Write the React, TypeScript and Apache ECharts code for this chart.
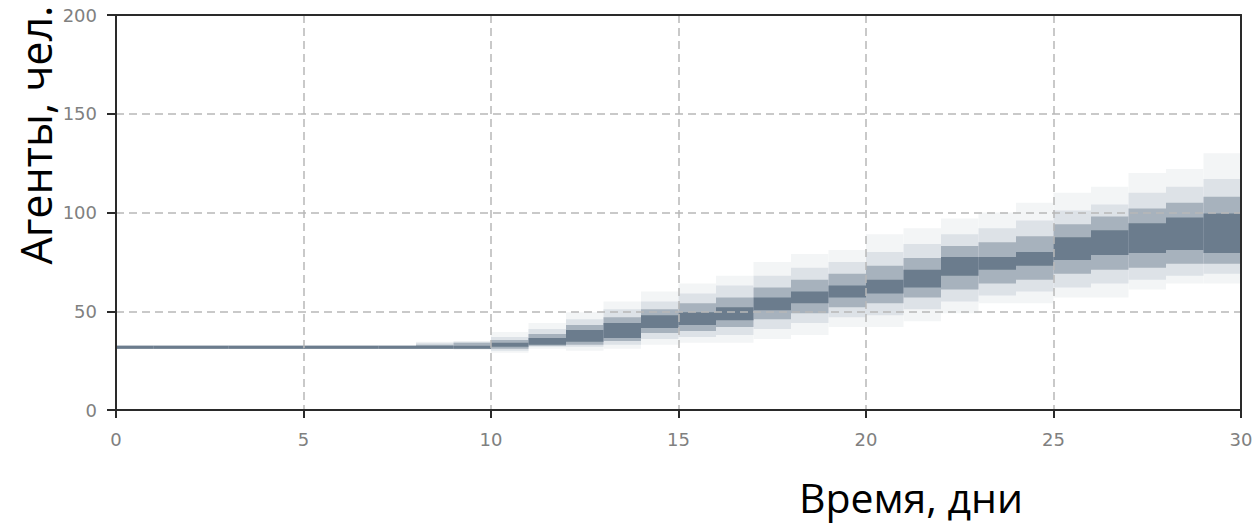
import React, { useEffect, useRef } from "react";
import * as echarts from "echarts";

const days = [0,1,2,3,4,5,6,7,8,9,10,11,12,13,14,15,16,17,18,19,20,21,22,23,24,25,26,27,28,29];
const outerLo = [31,31,31,31,31,31,31,31,31,30.5,29,31,30,31,33,34,34,36,38,42,42,45,49,54,54,57,57,61,64,64];
const outerHi = [32.5,32.5,32.5,32.5,32.5,32.5,32.5,32.5,34.5,35,39.5,44,49.5,55,60,64,68,75,79,81,89,92,97,100,105,110,113,120,122,130];
const lightLo = [31,31,31,31,31,31,31,31,31,31,30,32,32,33,36,37,38,41,44,47,48,51,55,58,60,62,64,66,68,69];
const lightHi = [32.5,32.5,32.5,32.5,32.5,32.5,32.5,32.5,34,34.5,37,41,46,51,55,59,63,68,72,75,80,84,89,92,96,101,104,110,113,117];
const midLo = [31,31,31,31,31,31,31,31,31,31,31,32.5,33,35,39,40,42,46,49,52,54,57,61,64,66,69,71,72,74,74];
const midHi = [32.5,32.5,32.5,32.5,32.5,32.5,32.5,32.5,33,34,35.5,38.5,43,47,51,54,57,62,66,69,73,77,83,85,88,94,98,102,105,108];
const coreLo = [31,31,31,31,31,31,31,31,31,31,32,33,34.5,36.5,41.5,43,45.5,50.5,54,57,59,62,68,71,73,76,78.5,79.5,81,79.5];
const coreHi = [32.5,32.5,32.5,32.5,32.5,32.5,32.5,32.5,32.5,32.5,34,36.5,40.5,44,48,49.5,52,57,60,63,66,71,77.5,77.5,80,87.5,91,94.5,97.5,99.5];

const xTicks = [0, 5, 10, 15, 20, 25, 30];
const yTicks = [0, 50, 100, 150, 200];

const bandSeries = (name: string, lo: number[], hi: number[], color: string) => ({
  type: "custom",
  name,
  clip: true,
  xAxisIndex: 0,
  yAxisIndex: 0,
  data: days.map((d, i) => [d, lo[i], hi[i]]),
  renderItem: (params: any, api: any) => {
    const p0 = api.coord([api.value(0), api.value(2)]);
    const p1 = api.coord([api.value(0) + 1, api.value(1)]);
    return {
      type: "rect",
      shape: { x: p0[0], y: p0[1], width: p1[0] - p0[0], height: p1[1] - p0[1] },
      style: { fill: color },
    };
  },
});

export default function App() {
  const ref = useRef<HTMLDivElement>(null);
  useEffect(() => {
    if (!ref.current) return;
    const chart = echarts.init(ref.current, undefined, { renderer: "svg" });
    const labelStyle = { color: "#808080", fontFamily: "DejaVu Sans", fontSize: 18 };
    const dark = "#2a2a2a";
    const split = { show: true, lineStyle: { color: "#b8b8b8", type: [8, 5], width: 1.5 } };
    const frameAxis = {
      type: "value",
      z: 6,
      axisLine: { show: true, onZero: false, lineStyle: { color: dark, width: 2 } },
      axisTick: { show: false },
      axisLabel: { show: false },
      splitLine: { show: false },
    };
    chart.setOption({
      animation: false,
      backgroundColor: "#ffffff",
      grid: { left: 116, right: 17, top: 15, bottom: 116 },
      xAxis: [
        {
          type: "value",
          min: xTicks[0], max: xTicks[xTicks.length - 1], interval: 5,
          z: 5,
          axisLine: { show: true, onZero: false, lineStyle: { color: dark, width: 2 } },
          axisTick: { show: true, length: 8, lineStyle: { color: dark, width: 2 } },
          axisLabel: { ...labelStyle, margin: 20 },
          splitLine: split,
        },
        { ...frameAxis, position: "top", min: 0, max: 30, interval: 5 },
      ],
      yAxis: [
        {
          type: "value",
          min: yTicks[0], max: yTicks[yTicks.length - 1], interval: 50,
          z: 5,
          axisLine: { show: true, onZero: false, lineStyle: { color: dark, width: 2 } },
          axisTick: { show: true, length: 9, lineStyle: { color: dark, width: 2 } },
          axisLabel: { ...labelStyle, margin: 19 },
          splitLine: split,
        },
        { ...frameAxis, position: "right", min: 0, max: 200, interval: 50 },
      ],
      graphic: [
        {
          type: "text",
          x: 35, y: 135, rotation: Math.PI / 2,
          style: {
            text: "Агенты, чел.", fill: "#000", font: "43px 'Open Sans'",
            align: "center", verticalAlign: "middle",
          },
        },
        {
          type: "text",
          x: 911, y: 497,
          style: {
            text: "Время, дни", fill: "#000", font: "41px 'Open Sans'",
            align: "center", verticalAlign: "middle",
          },
        },
      ],
      series: [
        bandSeries("outer", outerLo, outerHi, "#f3f5f6"),
        bandSeries("light", lightLo, lightHi, "#dde2e7"),
        bandSeries("mid", midLo, midHi, "#a7b2bd"),
        bandSeries("core", coreLo, coreHi, "#6b7c8d"),
      ],
    });
    return () => chart.dispose();
  }, []);
  return (
    <div
      ref={ref}
      style={{ position: "absolute", left: 0, top: 0, width: 1258, height: 526 }}
    />
  );
}
